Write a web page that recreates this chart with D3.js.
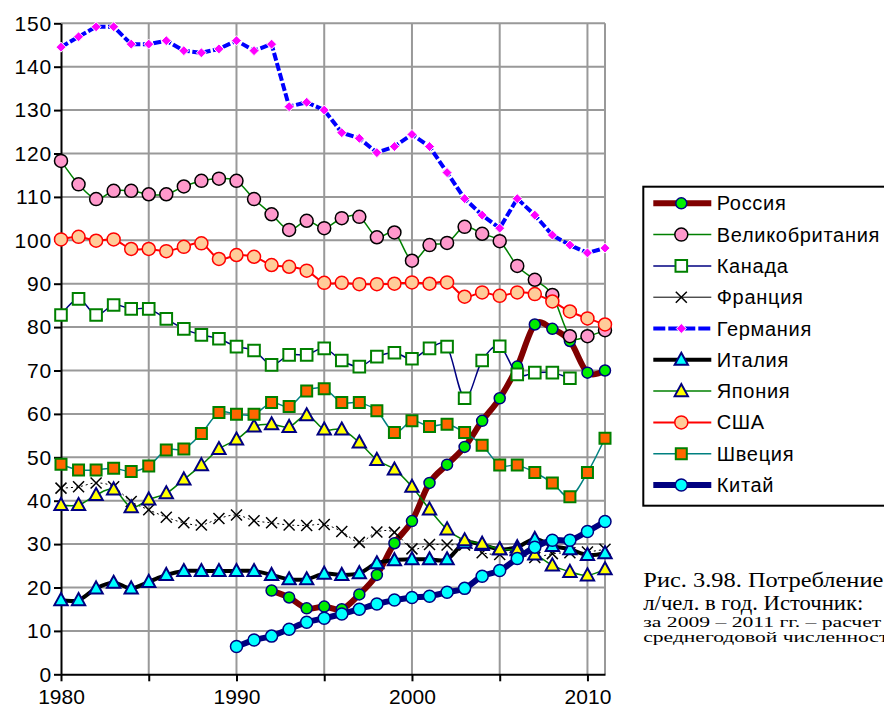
<!DOCTYPE html>
<html>
<head>
  <meta charset="utf-8">
  <script src="https://cdn.jsdelivr.net/npm/d3@7"></script>
  <style type="text/css">
    body {
      margin: 0;
      background: #fff;
    }
    svg {
      display: block;
      font-family: Arial, "Liberation Sans", Helvetica, sans-serif;
    }
    .grid line {
      stroke: #999;
      stroke-width: 2;
    }
    .caption {
      font-family: "Liberation Serif", "Times New Roman", serif;
    }
  </style>
</head>
<body>
  <script type="text/javascript">

  // data
  const years = [1980, 1981, 1982, 1983, 1984, 1985, 1986, 1987, 1988, 1989,
                 1990, 1991, 1992, 1993, 1994, 1995, 1996, 1997, 1998, 1999,
                 2000, 2001, 2002, 2003, 2004, 2005, 2006, 2007, 2008, 2009,
                 2010, 2011];

  const russia = [19.3, 17.7, 15.2, 15.6, 15.0, 18.4, 22.9, 30.2, 35.3, 44.1,
                  48.3, 52.4, 58.4, 63.6, 70.9, 80.6, 79.6, 76.8, 69.5, 70.0];   // from 1992
  const uk = [118.3, 112.9, 109.5, 111.4, 111.4, 110.6, 110.6, 112.4, 113.7, 114.2,
              113.7, 109.5, 106.0, 102.4, 104.5, 102.8, 105.1, 105.4, 100.7, 101.8,
              95.3, 98.9, 99.4, 103.1, 101.5, 99.8, 94.1, 90.9, 87.4, 77.9, 77.9, 79.3];
  const canada = [82.8, 86.5, 82.8, 85.1, 84.2, 84.2, 81.9, 79.6, 78.2, 77.3,
                  75.5, 74.6, 71.3, 73.6, 73.6, 75.1, 72.3, 70.9, 73.2, 74.1,
                  72.7, 75.1, 75.5, 63.6, 72.3, 75.6, 69.1, 69.5, 69.5, 68.2];   // to 2009
  const france = [42.9, 43.2, 44.1, 43.2, 39.8, 37.9, 36.2, 34.9, 34.4, 35.9,
                  36.7, 35.4, 34.9, 34.4, 34.3, 34.5, 32.9, 30.4, 32.8, 32.7,
                  28.9, 29.9, 29.8, 29.8, 28.0, 27.6, 27.6, 26.9, 27.8, 28.0, 28.2, 28.8];
  const germany = [144.5, 146.9, 149.2, 149.2, 145.2, 145.2, 146.0, 143.7, 143.2, 144.1,
                   146.0, 143.7, 145.2, 130.8, 131.8, 130.0, 124.8, 123.5, 120.2, 121.6,
                   124.4, 121.6, 115.6, 109.6, 105.8, 102.8, 109.6, 105.8, 101.2, 98.9, 97.1, 98.2];
  const italy = [17.1, 17.1, 19.8, 21.1, 19.8, 21.3, 22.9, 23.8, 23.8, 23.8,
                 23.8, 23.8, 22.9, 21.9, 21.9, 23.2, 22.9, 23.3, 25.6, 26.3,
                 26.5, 26.5, 26.5, 30.3, 29.8, 28.8, 29.3, 31.2, 29.6, 28.8, 27.5, 27.9];
  const japan = [39.0, 39.0, 41.3, 42.6, 38.5, 40.3, 41.7, 44.9, 48.2, 51.9,
                 54.1, 57.1, 57.6, 57.0, 59.7, 56.4, 56.4, 53.4, 49.4, 47.2,
                 43.2, 38.0, 33.4, 30.9, 30.1, 28.8, 28.6, 27.6, 25.1, 23.6, 22.8, 24.2];
  const usa = [100.2, 100.8, 99.9, 100.2, 98.0, 98.0, 97.5, 98.5, 99.3, 95.7,
               96.6, 96.2, 94.3, 93.9, 93.0, 90.2, 90.2, 89.9, 89.9, 90.0,
               90.3, 90.0, 90.3, 87.0, 88.0, 87.2, 88.0, 87.6, 85.9, 83.6, 82.0, 80.6];
  const sweden = [48.4, 47.1, 47.1, 47.5, 46.7, 48.0, 51.7, 51.9, 55.5, 60.3,
                  59.9, 59.9, 62.6, 61.7, 65.3, 65.8, 62.6, 62.6, 60.7, 55.7,
                  58.4, 57.1, 57.6, 55.7, 52.8, 48.2, 48.2, 46.5, 44.1, 40.9, 46.5, 54.4];
  const china = [6.4, 7.9, 8.8, 10.4, 12.0, 12.9, 13.9, 15.0, 16.2, 17.1,
                 17.7, 18.0, 18.9, 19.8, 22.6, 23.9, 26.7, 29.3, 30.9, 30.9, 32.9, 35.2];   // from 1990

  const yTicks = [0, 10, 20, 30, 40, 50, 60, 70, 80, 90, 100, 110, 120, 130, 140, 150];
  const xLabels = [1980, 1990, 2000, 2010];
  const xTicks = [1980, 1985, 1990, 1995, 2000, 2005, 2010];

  const captionLines = ['Рис. 3.98. Потребление', 'л/чел. в год. Источник:',
                        'за 2009 – 2011 гг.  – расчет', 'среднегодовой численност'];

  // series styles, in drawing / legend order
  const series = [
    {name: 'Россия', values: russia, start: 1992, line: '#800000', lw: 6, smooth: true,
     shape: 'circle', size: 5.5, fill: '#00ee00', stroke: '#000080', sw: 1.5},
    {name: 'Великобритания', values: uk, start: 1980, line: '#008000', lw: 1.5, smooth: true,
     shape: 'circle', size: 6.5, fill: '#ff99cc', stroke: '#000', sw: 1.5},
    {name: 'Канада', values: canada, start: 1980, line: '#000080', lw: 1.5, smooth: true,
     shape: 'square', size: 5.8, fill: '#fff', stroke: '#008000', sw: 2},
    {name: 'Франция', values: france, start: 1980, line: '#000', lw: 1, smooth: true, dash: '2,3',
     shape: 'x', size: 5.5, fill: 'none', stroke: '#000', sw: 1.5},
    {name: 'Германия', values: germany, start: 1980, line: '#0000ff', lw: 4, smooth: false, dash: '8,2.5',
     shape: 'diamond', size: 5, fill: '#ff00ff', stroke: '#fff', sw: 1},
    {name: 'Италия', values: italy, start: 1980, line: '#000', lw: 4, smooth: true,
     shape: 'triangle', size: 7, fill: '#00ffff', stroke: '#000080', sw: 2},
    {name: 'Япония', values: japan, start: 1980, line: '#008000', lw: 1.5, smooth: true,
     shape: 'triangle', size: 7, fill: '#ffff00', stroke: '#000080', sw: 2},
    {name: 'США', values: usa, start: 1980, line: '#ff0000', lw: 2, smooth: true,
     shape: 'circle', size: 6.5, fill: '#ffcc99', stroke: '#ff0000', sw: 1.5},
    {name: 'Швеция', values: sweden, start: 1980, line: '#008080', lw: 1.5, smooth: true,
     shape: 'square', size: 5.5, fill: '#ff6600', stroke: '#008000', sw: 2},
    {name: 'Китай', values: china, start: 1990, line: '#000080', lw: 6, smooth: true,
     shape: 'circle', size: 6, fill: '#00ffff', stroke: '#000080', sw: 1.5}
  ];

  const W = 884, H = 709;
  const plot = {left: 61, right: 605, top: 23.3, bottom: 674.3};

  const svg = d3.select('body').append('svg')
    .attr('width', W)
    .attr('height', H);

  const x = d3.scaleLinear().domain([1980, 2011]).range([plot.left, plot.right]);
  const y = d3.scaleLinear().domain([0, 150]).range([plot.bottom, plot.top]);

  // grid
  const grid = svg.append('g').attr('class', 'grid');
  grid.selectAll('line.h').data(yTicks.filter(d => d > 0)).enter().append('line')
    .attr('class', 'h')
    .attr('x1', plot.left).attr('x2', x(2011))
    .attr('y1', d => y(d)).attr('y2', d => y(d));
  grid.selectAll('line.v').data(xTicks.filter(d => d > 1980).concat([2011])).enter().append('line')
    .attr('class', 'v')
    .attr('x1', d => x(d)).attr('x2', d => x(d))
    .attr('y1', y(150)).attr('y2', y(0));

  // axes
  const axisY = d3.axisLeft(y).tickValues(yTicks).tickSize(7).tickPadding(2).tickSizeOuter(0);
  const gy = svg.append('g')
    .attr('transform', `translate(${plot.left},0)`)
    .call(axisY);
  const axisX = d3.axisBottom(x).tickValues(xTicks).tickSize(7).tickSizeOuter(0)
    .tickFormat(d => xLabels.includes(d) ? d : '');
  const gx = svg.append('g')
    .attr('transform', `translate(0,${plot.bottom})`)
    .call(axisX);

  [gx, gy].forEach(g => {
    g.selectAll('.domain').attr('stroke', '#000').attr('stroke-width', 2);
    g.selectAll('.tick line').attr('stroke', '#000').attr('stroke-width', 2);
    g.selectAll('text').attr('font-size', 20).attr('fill', '#000')
      .attr('font-family', 'Arial, "Liberation Sans", sans-serif');
  });
  gy.selectAll('text').attr('font-size', 21).attr('letter-spacing', 0.8);
  gx.selectAll('text').attr('dy', '0.95em').attr('font-size', 21);

  // markers
  function marker(sel, s) {
    const r = s.size;
    if (s.shape === 'circle') {
      return sel.append('circle').attr('r', r);
    }
    let p;
    if (s.shape === 'square') p = `M${-r},${-r}H${r}V${r}H${-r}Z`;
    if (s.shape === 'diamond') p = `M0,${-r}L${r},0L0,${r}L${-r},0Z`;
    if (s.shape === 'triangle') p = `M0,${-r}L${r * 0.95},${r * 0.72}L${-r * 0.95},${r * 0.72}Z`;
    if (s.shape === 'x') p = `M${-r},${-r}L${r},${r}M${r},${-r}L${-r},${r}`;
    return sel.append('path').attr('d', p);
  }

  function styleMarker(m, s) {
    m.attr('fill', s.fill).attr('stroke', s.stroke).attr('stroke-width', s.sw);
  }

  const lines = svg.append('g');
  series.forEach(s => {
    const pts = s.values.map((v, i) => ({year: years[years.indexOf(s.start) + i], v: v}));
    const line = d3.line()
      .x(d => x(d.year))
      .y(d => y(d.v))
      .curve(s.smooth ? d3.curveCardinal.tension(0) : d3.curveLinear);

    const g = lines.append('g');
    g.append('path')
      .attr('d', line(pts))
      .attr('fill', 'none')
      .attr('stroke', s.line)
      .attr('stroke-width', s.lw)
      .attr('stroke-linejoin', 'round')
      .attr('stroke-dasharray', s.dash || null);

    g.selectAll('g.pt').data(pts).enter().append('g')
      .attr('class', 'pt')
      .attr('transform', d => `translate(${x(d.year)},${y(d.v)})`)
      .each(function() {
        styleMarker(marker(d3.select(this), s), s);
      });
  });

  // legend
  const legend = svg.append('g').attr('transform', 'translate(643.3,186.7)');
  legend.append('rect')
    .attr('width', 260).attr('height', 319)
    .attr('fill', '#fff').attr('stroke', '#000').attr('stroke-width', 2);

  const item = legend.selectAll('g.item').data(series).enter().append('g')
    .attr('class', 'item')
    .attr('transform', (d, i) => `translate(0,${16.6 + i * 31.3})`);
  item.append('line')
    .attr('x1', 10).attr('x2', 68)
    .attr('stroke', d => d.line)
    .attr('stroke-width', d => d.lw)
    .attr('stroke-dasharray', d => d.name === 'Германия' ? '12,3' : null);
  item.append('g')
    .attr('transform', 'translate(38,0)')
    .each(function(d) {
      styleMarker(marker(d3.select(this), d), d);
    });
  item.append('text')
    .attr('x', 73.4)
    .attr('dy', '0.35em')
    .attr('font-size', 20)
    .attr('letter-spacing', 0.7)
    .text(d => d.name);

  // caption (runs past the right edge as in the original)
  const capY = [587, 610, 627, 642];
  const capW = [240, 220, 238, 245];
  const caption = svg.append('g').attr('class', 'caption');
  caption.selectAll('text').data(captionLines).enter().append('text')
    .attr('x', 643.3)
    .attr('y', (d, i) => capY[i])
    .attr('font-size', (d, i) => i < 2 ? 20 : 15)
    .attr('textLength', (d, i) => capW[i])
    .attr('lengthAdjust', 'spacingAndGlyphs')
    .attr('fill', '#000')
    .text(d => d);

  </script>
</body>
</html>
